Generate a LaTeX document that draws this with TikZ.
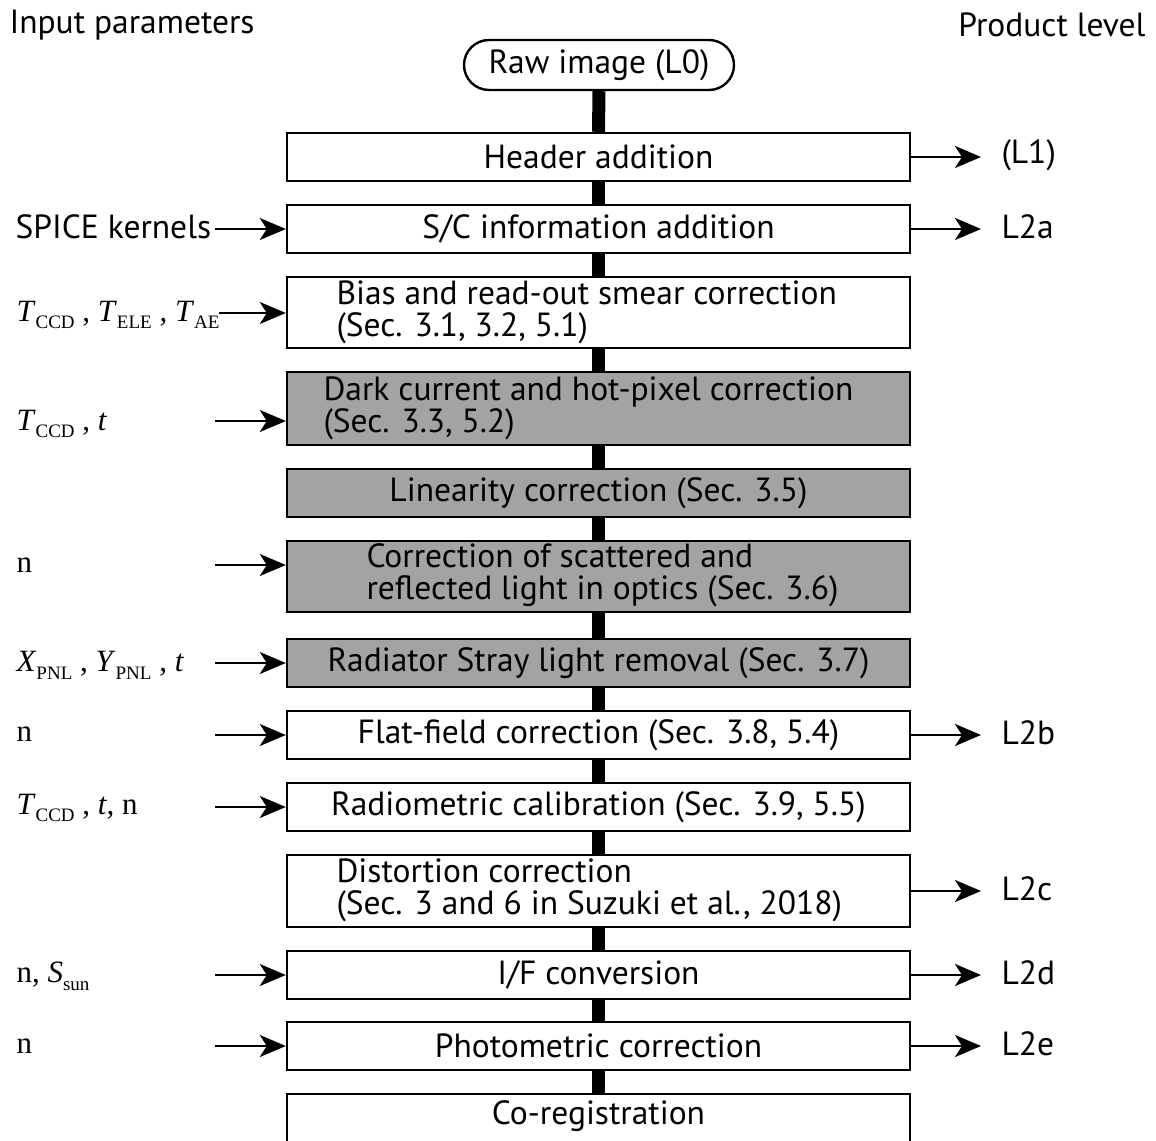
\documentclass[tikz,border=0pt]{standalone}
\usepackage{fontspec}
\setmainfont{PT Sans}
\newfontfamily\serif{Liberation Serif}
\usetikzlibrary{arrows.meta}
% subscript in the serif parameter labels
\newcommand{\psub}[1]{\raisebox{-0.55ex}{\fontsize{19}{19}\selectfont #1}}
\newcommand{\pvar}[1]{\textit{#1}}
\begin{document}
\begin{tikzpicture}[x=1pt,y=-1pt,
  every node/.style={font=\fontsize{33.5}{32}\selectfont, text=black},
  box/.style={draw, line width=2.4pt, minimum width=623pt, inner sep=0pt, fill=white},
  greybox/.style={box, fill=black!36},
  bar/.style={line width=13pt, draw=black},
  arr/.style={line width=2.6pt, -{Stealth[length=26pt,width=22pt,inset=7pt]}},
  param/.style={anchor=west, font=\serif\fontsize{31}{32}\selectfont},
  lvl/.style={anchor=west},
  multi/.style={anchor=west, align=left, font=\fontsize{33.5}{32}\selectfont}]
\clip (0,0) rectangle (1156,1140);
\useasboundingbox (0,0) rectangle (1156,1140);

% column headings
\node[anchor=west] (hin) at (6,25) {Input parameters};
\node[anchor=east] (hout) at (1149,25) {Product level};

% processing chain
\node[draw, line width=2.4pt, rounded corners=25pt, minimum width=270pt, minimum height=50pt, inner sep=0pt] (raw) at (599,65) {Raw image (L0)};
\node[box, minimum height=48pt] (hdr) at (598.5,157) {Header addition};
\node[box, minimum height=48pt] (sc) at (598.5,229) {S/C information addition};
\node[box, minimum height=71pt] (bias) at (598.5,312.5) {};
\node[greybox, minimum height=73pt] (dark) at (598.5,408.5) {};
\node[greybox, minimum height=48pt] (lin) at (598.5,493) {Linearity correction (Sec. 3.5)};
\node[greybox, minimum height=71pt] (scat) at (598.5,576.5) {};
\node[greybox, minimum height=48pt] (rad) at (598.5,663) {Radiator Stray light removal (Sec. 3.7)};
\node[box, minimum height=48pt] (flat) at (598.5,735) {Flat-field correction (Sec. 3.8, 5.4)};
\node[box, minimum height=48pt] (radio) at (598.5,807) {Radiometric calibration (Sec. 3.9, 5.5)};
\node[box, minimum height=72pt] (dist) at (598.5,891) {};
\node[box, minimum height=48pt] (iof) at (598.5,975) {I/F conversion};
\node[box, minimum height=48pt] (phot) at (598.5,1046) {Photometric correction};
\node[box, minimum height=60pt] (coreg) at (598.5,1124) {};
\node (coregt) at (598.5,1116) {Co-registration};

% two-line box texts
\node[multi] (biast) at (333,312) {Bias and read-out smear correction\\(Sec. 3.1, 3.2, 5.1)};
\node[multi] (darkt) at (320,408) {Dark current and hot-pixel correction\\(Sec. 3.3, 5.2)};
\node[multi] (scatt) at (363,575) {Correction of scattered and\\reflected light in optics (Sec. 3.6)};
\node[multi] (distt) at (333,890) {Distortion correction\\(Sec. 3 and 6 in Suzuki et al., 2018)};

% links between stages
\draw[bar] (raw.south) -- (hdr.north);
\draw[bar] (hdr.south) -- (sc.north);
\draw[bar] (sc.south) -- (bias.north);
\draw[bar] (bias.south) -- (dark.north);
\draw[bar] (dark.south) -- (lin.north);
\draw[bar] (lin.south) -- (scat.north);
\draw[bar] (scat.south) -- (rad.north);
\draw[bar] (rad.south) -- (flat.north);
\draw[bar] (flat.south) -- (radio.north);
\draw[bar] (radio.south) -- (dist.north);
\draw[bar] (dist.south) -- (iof.north);
\draw[bar] (iof.south) -- (phot.north);
\draw[bar] (phot.south) -- (coreg.north);

% input parameters
\node[anchor=west] (p1) at (12,227) {SPICE kernels};
\node[param] (p2) at (13,315) {\pvar{T}\psub{CCD} , \pvar{T}\psub{ELE} , \pvar{T}\psub{AE}};
\node[param] (p3) at (13,424) {\pvar{T}\psub{CCD} , \pvar{t}};
\node[param] (p4) at (13,565) {n};
\node[param] (p5) at (13,665) {\pvar{X}\psub{PNL} , \pvar{Y}\psub{PNL} , \pvar{t}};
\node[param] (p6) at (13,734) {n};
\node[param] (p7) at (13,808) {\pvar{T}\psub{CCD} , \pvar{t}, n};
\node[param] (p8) at (13,976) {n, \pvar{S}\psub{sun}};
\node[param] (p9) at (13,1046) {n};

\coordinate (s1) at (215,229);
\coordinate (s2) at (219,313);
\coordinate (s3) at (215,421);
\coordinate (s4) at (215,565);
\coordinate (s5) at (215,663);
\coordinate (s6) at (215,735);
\coordinate (s7) at (215,807);
\coordinate (s8) at (215,975);
\coordinate (s9) at (215,1046);
\draw[arr] (s1) -- (sc.west |- s1);
\draw[arr] (s2) -- (bias.west |- s2);
\draw[arr] (s3) -- (dark.west |- s3);
\draw[arr] (s4) -- (scat.west |- s4);
\draw[arr] (s5) -- (rad.west |- s5);
\draw[arr] (s6) -- (flat.west |- s6);
\draw[arr] (s7) -- (radio.west |- s7);
\draw[arr] (s8) -- (iof.west |- s8);
\draw[arr] (s9) -- (phot.west |- s9);

% product levels
\node[lvl] (l1) at (998,155) {(L1)};
\node[lvl] (l2a) at (998,227) {L2a};
\node[lvl] (l2b) at (998,733) {L2b};
\node[lvl] (l2c) at (998,889) {L2c};
\node[lvl] (l2d) at (998,973) {L2d};
\node[lvl] (l2e) at (998,1044) {L2e};
\draw[arr] (hdr.east) -- ([xshift=-17pt]l1.west |- hdr.east);
\draw[arr] (sc.east) -- ([xshift=-17pt]l2a.west |- sc.east);
\draw[arr] (flat.east) -- ([xshift=-17pt]l2b.west |- flat.east);
\draw[arr] (dist.east) -- ([xshift=-17pt]l2c.west |- dist.east);
\draw[arr] (iof.east) -- ([xshift=-17pt]l2d.west |- iof.east);
\draw[arr] (phot.east) -- ([xshift=-17pt]l2e.west |- phot.east);
\end{tikzpicture}
\end{document}
